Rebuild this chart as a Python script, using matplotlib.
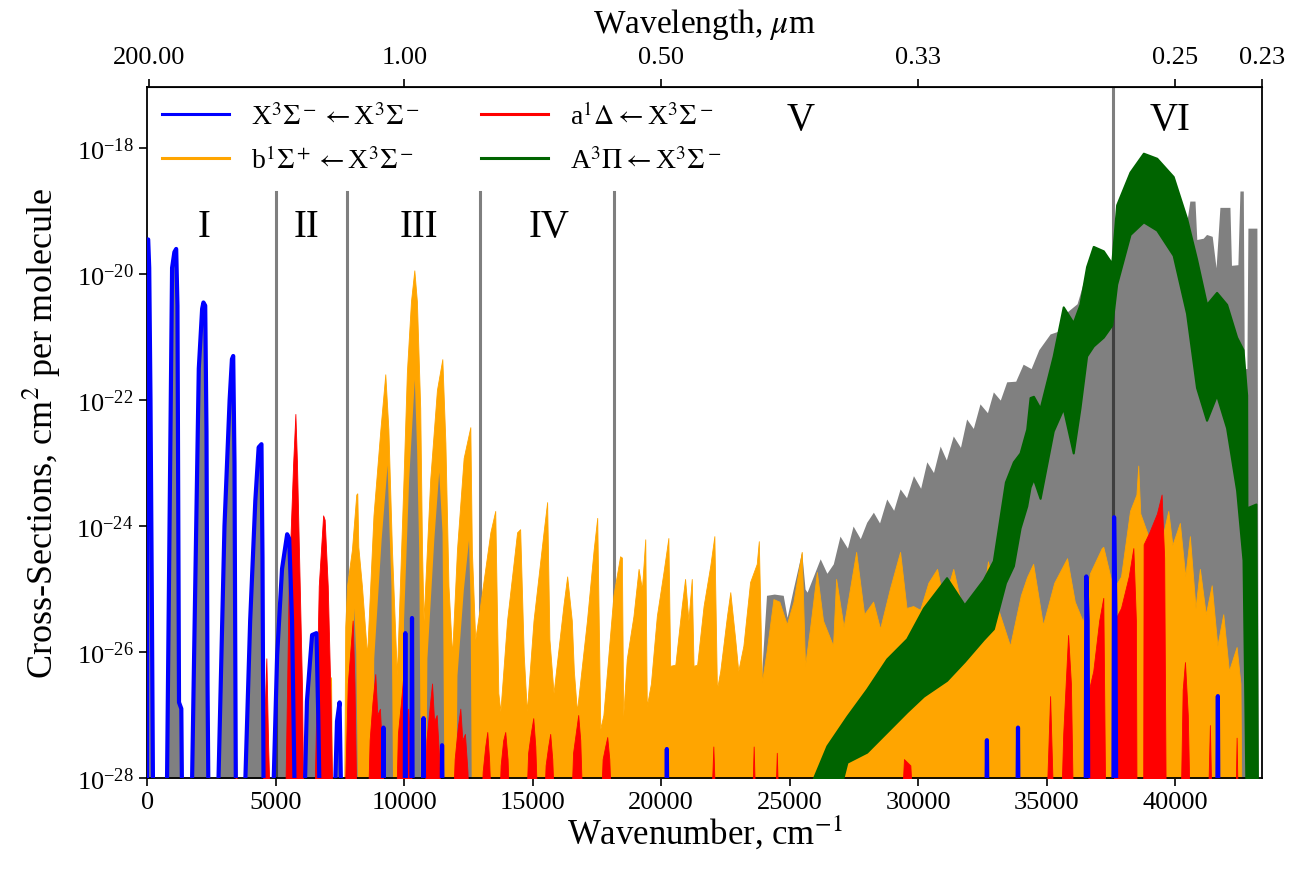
import matplotlib
matplotlib.use("Agg")
import matplotlib.pyplot as plt
import matplotlib.ticker as mticker
from matplotlib.lines import Line2D
import numpy as np

plt.rcParams['font.family'] = ['Liberation Serif', 'DejaVu Serif']
plt.rcParams['mathtext.fontset'] = 'stix'

# envelopes: (wavenumber / cm-1, log10 cross-section); -29 = below axis
blue_pts = [(-20, -29), (0, -19.45), (30, -19.45), (70, -19.9), (120, -22.0), (170, -25.0), (230, -29),
            (740, -29), (960, -19.9), (1050, -19.65), (1120, -19.6), (1170, -20.5), (1230, -26.8), (1320, -26.9), (1360, -29),
            (1700, -29), (2000, -21.5), (2130, -20.55), (2180, -20.45), (2250, -20.5), (2300, -22.5), (2340, -26.5), (2390, -29),
            (2710, -29), (3000, -24.0), (3200, -22.0), (3290, -21.35), (3340, -21.3), (3390, -23.0), (3450, -29),
            (3740, -29), (4000, -25.5), (4200, -23.6), (4330, -22.75), (4440, -22.7), (4480, -24.5), (4530, -29),
            (4850, -29), (5050, -26.05), (5240, -24.68), (5440, -24.13), (5520, -24.2), (5630, -25.5), (5760, -29),
            (6080, -29), (6210, -26.78), (6410, -25.73), (6580, -25.7), (6650, -27.0), (6730, -29),
            (7250, -29), (7380, -27.1), (7480, -26.8), (7570, -29),
            (9160, -29), (9190, -27.2), (9220, -29),
            (10010, -29), (10040, -25.7), (10070, -29),
            (10270, -29), (10300, -25.46), (10330, -29),
            (10720, -29), (10750, -27.05), (10780, -29),
            (11440, -29), (11470, -27.48), (11500, -29),
            (20190, -29), (20220, -27.54), (20250, -29),
            (32650, -29), (32680, -27.4), (32710, -29),
            (33860, -29), (33890, -27.2), (33920, -29),
            (36520, -29), (36550, -24.8), (36600, -25.5), (36630, -29),
            (37600, -29), (37630, -23.86), (37680, -25.3), (37720, -29),
            (41640, -29), (41670, -26.7), (41700, -29)]

orange_pts = [(5750, -29), (5840, -26.4), (5900, -26.6), (5950, -29),
              (6950, -29), (7050, -26.8), (7150, -26.4), (7200, -29),
              (7650, -29), (7700, -25.6), (7770, -24.95), (7960, -24.38), (8130, -23.5), (8170, -23.48),
              (8210, -24.33), (8350, -24.95), (8550, -26.05), (8800, -23.83), (9070, -22.46), (9260, -21.59),
              (9380, -22.46), (9520, -24.38), (9710, -26.37), (9970, -23.25), (10100, -21.56), (10260, -20.43),
              (10390, -19.94), (10490, -20.43), (10620, -22.13), (10690, -24.38), (10750, -25.5), (11010, -23.25),
              (11270, -21.84), (11480, -21.35), (11600, -22.68), (11720, -24.95), (11860, -26.05), (12050, -24.38),
              (12310, -22.92), (12570, -22.43), (12630, -24.38), (12760, -25.8), (12960, -25.24), (13350, -24.1),
              (13540, -23.76), (13660, -26.65), (13740, -26.94), (14000, -25.5), (14390, -24.1), (14510, -24.05),
              (14650, -26.05), (14770, -26.94), (15030, -25.5), (15420, -24.1), (15560, -23.62), (15650, -25.8),
              (15810, -26.65), (16200, -25.24), (16340, -24.8), (16520, -25.5), (16600, -26.3), (16720, -26.94),
              (17110, -25.5), (17370, -24.38), (17510, -23.87), (17630, -27.22), (17750, -27.0), (18140, -25.1),
              (18400, -24.48), (18470, -24.5), (18520, -27.02), (18660, -26.11), (18920, -25.43), (19120, -24.68),
              (19250, -25.0), (19380, -24.21), (19440, -26.86), (19600, -26.5), (19830, -25.43), (20090, -24.73),
              (20280, -24.19), (20350, -26.22), (20550, -26.2), (20800, -25.27), (20930, -24.84), (21060, -25.5),
              (21190, -24.84), (21260, -26.22), (21400, -26.2), (21650, -25.27), (21910, -24.63), (22070, -24.16),
              (22170, -26.59), (22300, -26.3), (22560, -25.43), (22690, -25.05), (22880, -25.79), (23000, -26.3),
              (23200, -25.9), (23460, -24.89), (23720, -24.6), (23800, -24.24), (23920, -26.48), (24100, -26.0),
              (24370, -25.16), (24600, -25.2), (24890, -25.56), (25150, -25.2), (25470, -24.41), (25600, -26.22),
              (25800, -25.6), (26060, -24.73), (26300, -25.5), (26690, -25.9), (26810, -24.84), (27100, -25.6),
              (27590, -24.41), (27900, -25.4), (28250, -25.2), (28520, -25.63), (28900, -25.0), (29300, -24.41),
              (29550, -25.3), (29810, -25.27), (30080, -25.33), (30400, -24.9), (30740, -24.68), (31000, -25.2),
              (31370, -24.68), (31600, -25.1), (31900, -25.4), (32400, -25.5), (32720, -24.56), (33100, -25.3),
              (33580, -25.9), (34000, -25.1), (34240, -24.81), (34480, -24.6), (34860, -25.57), (35300, -24.9),
              (35800, -24.51), (36100, -25.2), (36420, -25.52), (36690, -24.75), (37150, -24.35), (37210, -24.33),
              (37600, -25.0), (37900, -24.8), (38250, -23.76), (38500, -23.5), (38570, -23.04), (38650, -23.8),
              (39000, -24.2), (39290, -25.06), (39500, -24.2), (39740, -23.76), (39900, -24.3), (40190, -23.95),
              (40400, -24.8), (40580, -24.16), (40800, -25.3), (40970, -24.68), (41200, -25.4), (41430, -24.94),
              (41650, -25.9), (41880, -25.4), (42100, -26.3), (42400, -25.92), (42550, -26.5), (42600, -29)]

# total cross-section showing through inside the strongest b-X bands
core_pts = [(7900, -29), (7980, -26.5), (8030, -25.3), (8110, -26.0), (8200, -29),
            (8750, -29), (8810, -26.1), (9100, -24.2), (9330, -23.03), (9400, -24.0), (9480, -24.95), (9560, -29),
            (9900, -29), (9970, -25.5), (10170, -23.25), (10390, -21.67), (10480, -22.8), (10560, -24.38), (10640, -29),
            (10820, -29), (10880, -26.1), (11150, -24.2), (11340, -23.14), (11470, -24.1), (11560, -29),
            (11990, -29), (12050, -26.37), (12300, -25.0), (12500, -24.22), (12560, -25.2), (12620, -29)]

red_pts = [(3380, -29), (3450, -27.6), (3520, -29),
           (4460, -29), (4560, -27.0), (4630, -26.1), (4700, -27.5), (4810, -29),
           (5340, -29), (5500, -24.95), (5670, -23.03), (5760, -22.22), (5820, -22.97), (5930, -24.95), (6020, -26.6), (6080, -29),
           (6470, -29), (6670, -24.95), (6840, -23.83), (6900, -23.9), (7020, -24.95), (7120, -26.6), (7230, -29),
           (7640, -29), (7800, -26.5), (7990, -25.5), (8060, -26.5), (8160, -29),
           (8550, -29), (8650, -27.4), (8760, -26.8), (8870, -26.35), (8950, -27.0), (9050, -26.9), (9150, -27.7), (9250, -29),
           (9650, -29), (9750, -27.3), (9870, -26.8), (9970, -26.33), (10050, -27.0), (10150, -26.9), (10250, -27.6), (10350, -29),
           (10750, -29), (10860, -27.4), (10980, -26.9), (11080, -26.5), (11160, -27.1), (11260, -27.0), (11360, -27.7), (11450, -29),
           (11850, -29), (11960, -27.7), (12080, -27.2), (12180, -26.9), (12260, -27.4), (12360, -27.3), (12460, -27.9), (12550, -29),
           (12950, -29), (13050, -27.9), (13150, -27.5), (13230, -27.27), (13300, -27.7), (13420, -29),
           (13650, -29), (13750, -27.8), (13850, -27.4), (13930, -27.27), (14020, -27.7), (14130, -29),
           (14700, -29), (14820, -27.6), (14920, -27.3), (15020, -27.05), (15100, -27.5), (15220, -29),
           (15400, -29), (15500, -27.8), (15600, -27.5), (15680, -27.3), (15760, -27.7), (15880, -29),
           (16450, -29), (16570, -27.6), (16670, -27.3), (16770, -27.0), (16850, -27.4), (16970, -29),
           (17600, -29), (17720, -27.7), (17820, -27.5), (17900, -27.35), (17980, -27.7), (18100, -29),
           (21900, -29), (22030, -27.5), (22150, -29),
           (23500, -29), (23600, -27.5), (23700, -29),
           (24400, -29), (24500, -27.6), (24600, -29),
           (29300, -29), (29450, -27.7), (29700, -27.8), (29850, -29),
           (34950, -29), (35140, -26.7), (35300, -29),
           (35530, -29), (35650, -27.3), (35840, -25.73), (35950, -26.5), (36050, -29),
           (36620, -29), (36650, -26.6), (36820, -26.3), (37050, -25.5), (37210, -25.14), (37300, -29),
           (37620, -29), (37650, -25.5), (37900, -25.3), (38200, -24.8), (38380, -24.35), (38480, -25.5), (38510, -29),
           (38760, -29), (38780, -24.29), (39000, -24.1), (39300, -23.8), (39480, -23.5), (39580, -24.5), (39650, -29),
           (40200, -29), (40300, -26.6), (40390, -26.16), (40500, -27.0), (40600, -29),
           (41250, -29), (41360, -27.16), (41450, -29),
           (42330, -29), (42400, -27.36), (42470, -29)]

# total (grey) envelope where it rises above the individual systems
gray_pts = [(23850, -29), (23900, -26.4), (24100, -25.1), (24400, -25.08), (24750, -25.1), (24900, -25.45),
            (25140, -25.0), (25470, -24.41), (25600, -25.0), (25680, -25.05), (26190, -24.52), (26450, -24.75),
            (26700, -24.6), (26960, -24.16), (27250, -24.35), (27470, -24.0), (27750, -24.2), (28000, -23.94),
            (28260, -23.78), (28500, -23.95), (28780, -23.57), (29050, -23.75), (29300, -23.41), (29550, -23.55),
            (29820, -23.2), (30100, -23.4), (30340, -22.98), (30600, -23.15), (30860, -22.73), (31100, -22.95),
            (31370, -22.57), (31650, -22.75), (31890, -22.3), (32150, -22.45), (32410, -22.06), (32700, -22.2),
            (32930, -21.87), (33200, -22.0), (33450, -21.71), (33800, -21.7), (34090, -21.43), (34400, -21.5),
            (34700, -21.2), (35140, -20.95), (35500, -20.9), (35800, -20.6), (36190, -20.47), (36600, -19.9),
            (36820, -19.56), (37210, -19.64), (37540, -19.8), (37730, -18.9), (38250, -18.38), (38770, -18.08),
            (39290, -18.16), (39930, -18.45), (40300, -19.0), (40450, -19.2), (40580, -18.84), (40780, -18.84),
            (40850, -19.45), (41100, -19.43), (41230, -19.37), (41450, -19.4), (41600, -19.9), (41750, -18.94),
            (42140, -18.94), (42200, -19.86), (42450, -19.85), (42530, -18.68), (42660, -18.68), (42700, -21.5),
            (42800, -21.5), (42840, -19.27), (43190, -19.27), (43250, -29)]

# A-X band: upper and lower edge of the noisy green trace
green_wn = [25930, 26450, 27230, 28000, 28780, 29560, 30210, 31110, 31800, 32540, 32930, 33400, 33710, 33970,
            34230, 34360, 34490, 34750, 35260, 35650, 36040, 36300, 36560, 36820, 37210, 37540, 37730, 38250,
            38770, 39290, 39930, 40450, 40840, 41230, 41620, 42010, 42400, 42650, 42790, 42800, 42860, 43150, 43220]
green_top = [-28.0, -27.49, -27.02, -26.59, -26.11, -25.79, -25.3, -24.82, -25.25, -24.85, -24.55, -23.3, -22.98, -22.84,
             -22.46, -21.96, -21.94, -22.13, -21.3, -20.52, -20.77, -20.48, -19.88, -19.56, -19.63, -19.83, -18.9, -18.38,
             -18.08, -18.16, -18.45, -19.11, -19.76, -20.48, -20.29, -20.48, -21.0, -21.2, -21.92, -23.7, -23.7, -23.65, -29]
green_bot = [-29, -29, -27.75, -27.59, -27.27, -26.95, -26.7, -26.45, -26.15, -25.8, -25.63, -24.9, -24.63, -24.03,
             -23.68, -23.38, -23.25, -23.56, -22.49, -22.13, -22.84, -22.13, -21.3, -21.14, -21.0, -20.81, -20.16, -19.37,
             -19.17, -19.3, -19.7, -20.62, -21.8, -22.32, -21.92, -22.44, -23.43, -24.54, -29, -29, -29, -29, -29]

region_edges = [5000, 7750, 12950, 18150]
vis_uv_edge = 37590
region_names = ['I', 'II', 'III', 'IV', 'V', 'VI']
region_x = [2215, 6180, 10570, 15630, 25410, 39800]
region_logy = [-19.25, -19.25, -19.25, -19.25, -17.54, -17.54]

bottom_ticks = [0, 5000, 10000, 15000, 20000, 25000, 30000, 35000, 40000]
top_ticks = [50, 10000, 20000, 30000, 40000, 43400]

labels = [r'X$^3\Sigma^-\leftarrow$X$^3\Sigma^-$', r'b$^1\Sigma^+\leftarrow$X$^3\Sigma^-$',
          r'a$^1\Delta\leftarrow$X$^3\Sigma^-$', r'A$^3\Pi\leftarrow$X$^3\Sigma^-$']
colors = ['blue', 'orange', 'red', 'darkgreen']


def unzip(pts):
    a = np.array(pts, dtype=float)
    return a[:, 0], 10 ** a[:, 1]


FLOOR = 1e-29

fig = plt.figure(figsize=(13, 8.79), dpi=100)
ax = fig.add_axes([0.113, 0.1138, 0.858, 0.786])
ax.set_yscale('log')

bx, by = unzip(blue_pts)
ox, oy = unzip(orange_pts)
cx, cy = unzip(core_pts)
rx, ry = unzip(red_pts)
gx, gy = unzip(gray_pts)
gw = np.array(green_wn, dtype=float)

ax.fill_between(bx, FLOOR, by, color='gray', lw=0, zorder=1)
ax.fill_between(gx, FLOOR, gy, color='gray', lw=0, zorder=1)
for x in region_edges:
    ax.plot([x, x], [FLOOR, 10 ** -18.7], color='k', alpha=0.5, lw=2.2, zorder=1.5)
ax.axvline(vis_uv_edge, color='k', alpha=0.5, lw=2.2, zorder=1.5)
ax.fill_between(ox, FLOOR, oy, color='orange', lw=0.6, edgecolor='orange', zorder=2)
ax.fill_between(cx, FLOOR, cy, color='gray', lw=0, zorder=2.1)
ax.fill_between(rx, FLOOR, ry, color='red', lw=0.6, edgecolor='red', zorder=3)
ax.plot(bx, by, color='blue', lw=3, zorder=4)
ax.fill_between(gw, 10 ** np.array(green_bot), 10 ** np.array(green_top),
                color='darkgreen', lw=1.5, edgecolor='darkgreen', zorder=5)

for name, x, ly in zip(region_names, region_x, region_logy):
    ax.text(x, 10 ** ly, name, ha='center', va='center', fontsize=28, zorder=6)

ax.set_xlim(-20, 43400)
ax.set_ylim(1e-28, 10 ** -17.03)
ax.set_yticks([1e-28, 1e-26, 1e-24, 1e-22, 1e-20, 1e-18])
ax.yaxis.set_minor_locator(mticker.NullLocator())
ax.set_xticks(bottom_ticks)
ax.tick_params(labelsize=19, direction='out', length=6, width=1.2)
for s in ax.spines.values():
    s.set_linewidth(1.3)

sec = ax.secondary_xaxis('top')
sec.set_xticks(top_ticks, ['%.2f' % (1e4 / t) for t in top_ticks])
sec.tick_params(labelsize=19, direction='out', length=6, width=1.2, pad=8)
sec.set_xlabel(r'Wavelength, $\mu$m', fontsize=24, labelpad=10)

ax.set_xlabel(r'Wavenumber, cm$^{-1}$', fontsize=25, labelpad=0)
ax.set_ylabel(r'Cross-Sections, cm$^2$ per molecule', fontsize=26, labelpad=10)

handles = [Line2D([], [], color=c, lw=2.2) for c in colors]
ax.legend(handles, labels, ncol=2, loc='upper left', frameon=False, fontsize=20,
          handlelength=2.4, columnspacing=2.2, labelspacing=0.6, borderaxespad=0.15)

fig.savefig('out.png', dpi=100)
